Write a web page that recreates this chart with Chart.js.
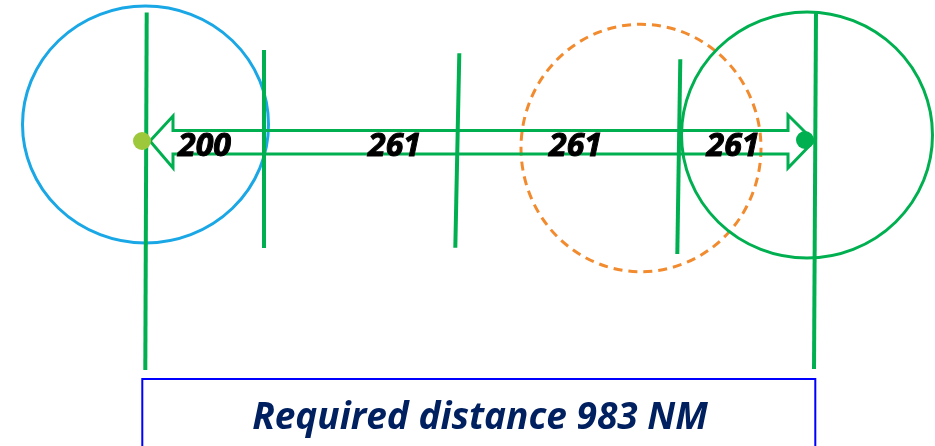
<!DOCTYPE html>
<html>
<head>
<meta charset="utf-8">
<script src="https://cdn.jsdelivr.net/npm/chart.js@4.4.1/dist/chart.umd.min.js"></script>
<style>
  body { margin: 0; background: #fff; }
  #diagrama { display: block; }
</style>
</head>
<body>
<canvas id="diagrama" width="935" height="446"></canvas>
<script>
// ---- datos del esquema (unidades del dibujo, eje y hacia abajo) ----
const tramoEtiquetas = ['200', '261', '261', '261'];
const tramoEtiquetaX = [204.5, 394.5, 575.5, 733];
const tramoEtiquetaY = [155.5, 155.5, 155.5, 155.5];

// marcas verticales: extremo superior e inferior
const marcaSupX = [146.7, 264, 459.3, 680.3, 816];
const marcaSupY = [12.5, 50, 53.3, 59.3, 12];
const marcaInfX = [145.3, 264, 455.3, 677.3, 814];
const marcaInfY = [370, 248, 247.7, 254, 369];

// contorno de la flecha doble
const flechaX = [150, 173, 173, 788, 788, 814, 788, 788, 173, 173, 150];
const flechaY = [141, 116, 130.5, 130.5, 115, 141, 168, 154, 154, 168, 141];

// puntos de salida y llegada
const puntoX = [142, 805];
const puntoY = [141, 140];

// circulos de alcance (centro y radios)
const circuloX = [145.5, 641, 807];
const circuloY = [124.5, 148, 135];
const circuloRx = [123, 120, 125.5];
const circuloRy = [118.5, 123.7, 123];

// recuadro inferior
const cajaX = [142.3, 815.3];
const cajaY = [379, 470];
const cajaTexto = 'Required distance 983 NM';
const cajaTextoX = 480;
const cajaTextoY = 429.3;

const verde = '#00B050';
const coloresPunto = ['#9DC83B', verde];
const coloresCirculo = ['#1AA7E6', '#F28A2E', verde];
const guionesCirculo = [[], [9, 6], []];

// Marcas verticales como datasets de linea
const marcas = marcaSupX.map((xs, i) => ({
  label: 'marca' + i,
  data: [{ x: xs, y: marcaSupY[i] }, { x: marcaInfX[i], y: marcaInfY[i] }],
  showLine: true,
  borderColor: verde,
  borderWidth: 4,
  borderCapStyle: 'butt',
  pointRadius: 0,
  order: 1
}));

const flecha = {
  label: 'flecha',
  data: flechaX.map((v, i) => ({ x: v, y: flechaY[i] })),
  showLine: true,
  borderColor: verde,
  borderWidth: 3,
  borderJoinStyle: 'miter',
  pointRadius: 0,
  tension: 0,
  order: 2
};

const puntos = {
  label: 'puntos',
  data: puntoX.map((v, i) => ({ x: v, y: puntoY[i] })),
  showLine: false,
  pointRadius: 9,
  pointBackgroundColor: coloresPunto,
  pointBorderWidth: 0,
  order: 0
};

// Plugin: circulos, etiquetas y recuadro
const esquemaPlugin = {
  id: 'esquema',
  beforeDatasetsDraw(chart) {
    const { ctx, scales: { x, y } } = chart;
    ctx.save();
    circuloX.forEach((cx, i) => {
      const px = x.getPixelForValue(cx);
      const py = y.getPixelForValue(circuloY[i]);
      const rx = Math.abs(x.getPixelForValue(cx + circuloRx[i]) - px);
      const ry = Math.abs(y.getPixelForValue(circuloY[i] + circuloRy[i]) - py);
      ctx.beginPath();
      ctx.ellipse(px, py, rx, ry, 0, 0, 2 * Math.PI);
      ctx.strokeStyle = coloresCirculo[i];
      ctx.lineWidth = 3;
      ctx.setLineDash(guionesCirculo[i]);
      ctx.stroke();
    });
    ctx.restore();
  },
  afterDatasetsDraw(chart) {
    const { ctx, scales: { x, y } } = chart;
    ctx.save();
    // etiquetas de los tramos (un poco de trazo para que se vean mas gruesas)
    ctx.font = 'italic bold 32px "Open Sans"';
    ctx.fillStyle = '#000';
    ctx.strokeStyle = '#000';
    ctx.lineWidth = 1;
    ctx.textAlign = 'center';
    ctx.textBaseline = 'alphabetic';
    tramoEtiquetas.forEach((t, i) => {
      const px = x.getPixelForValue(tramoEtiquetaX[i]);
      const py = y.getPixelForValue(tramoEtiquetaY[i]);
      ctx.fillText(t, px, py);
      ctx.strokeText(t, px, py);
    });

    // recuadro
    const x0 = x.getPixelForValue(cajaX[0]);
    const x1 = x.getPixelForValue(cajaX[1]);
    const y0 = y.getPixelForValue(cajaY[0]);
    const y1 = y.getPixelForValue(cajaY[1]);
    ctx.strokeStyle = '#0000FF';
    ctx.lineWidth = 2;
    ctx.strokeRect(x0, y0, x1 - x0, y1 - y0);

    // texto del recuadro (comprimido para parecerse a Calibri)
    ctx.font = 'italic bold 37px "Open Sans"';
    ctx.fillStyle = '#002060';
    const ancho = ctx.measureText(cajaTexto).width;
    const escala = Math.min(1, 460 / ancho);
    ctx.translate(x.getPixelForValue(cajaTextoX), y.getPixelForValue(cajaTextoY));
    ctx.scale(escala, 1);
    ctx.fillText(cajaTexto, 0, 0);
    ctx.restore();
  }
};

const chart = new Chart(document.getElementById('diagrama').getContext('2d'), {
  type: 'scatter',
  data: { datasets: [puntos, ...marcas, flecha] },
  options: {
    responsive: false,
    animation: false,
    layout: { padding: 0, autoPadding: false },
    plugins: { legend: { display: false }, tooltip: { enabled: false } },
    scales: {
      x: { type: 'linear', min: 0, max: 935, display: false },
      y: { type: 'linear', min: 0, max: 446, reverse: true, display: false }
    }
  },
  plugins: [esquemaPlugin]
});
</script>
</body>
</html>
